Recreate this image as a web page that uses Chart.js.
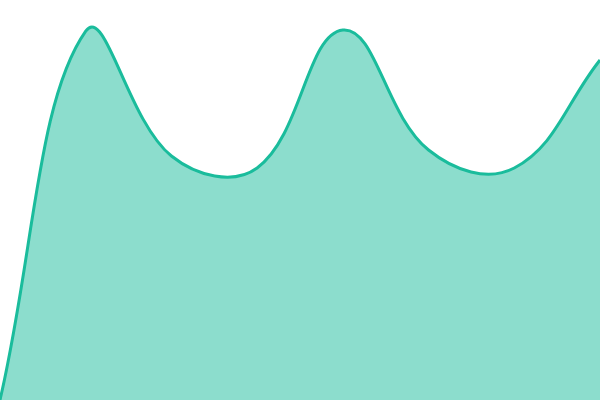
<!DOCTYPE html>
<html>
<head>
<meta charset="utf-8">
<script src="https://cdn.jsdelivr.net/npm/chart.js@4"></script>
<style>
html,body{margin:0;padding:0;background:#fff;}
#wrap{width:600px;height:400px;}
</style>
</head>
<body>
<div id="wrap"><canvas id="c" width="600" height="400"></canvas></div>
<script>
const labels = ["A","B","C","D","E","F","G","H"];
const values = [0, 92.2, 61, 58, 92.5, 62.5, 58, 85];
const lineColor = "rgb(26,188,156)";
const fillColor = "rgba(26,188,156,0.5)";

new Chart(document.getElementById("c"), {
  type: "line",
  data: {
    labels: labels,
    datasets: [{
      data: values,
      borderColor: lineColor,
      backgroundColor: fillColor,
      borderWidth: 3,
      fill: true,
      tension: 0.4,
      pointRadius: 0,
      clip: false
    }]
  },
  options: {
    responsive: false,
    animation: false,
    layout: { padding: 0 },
    plugins: { legend: { display: false }, tooltip: { enabled: false } },
    scales: {
      x: { display: false, offset: false },
      y: { display: false, min: 0, max: 100 }
    }
  }
});
</script>
</body>
</html>
